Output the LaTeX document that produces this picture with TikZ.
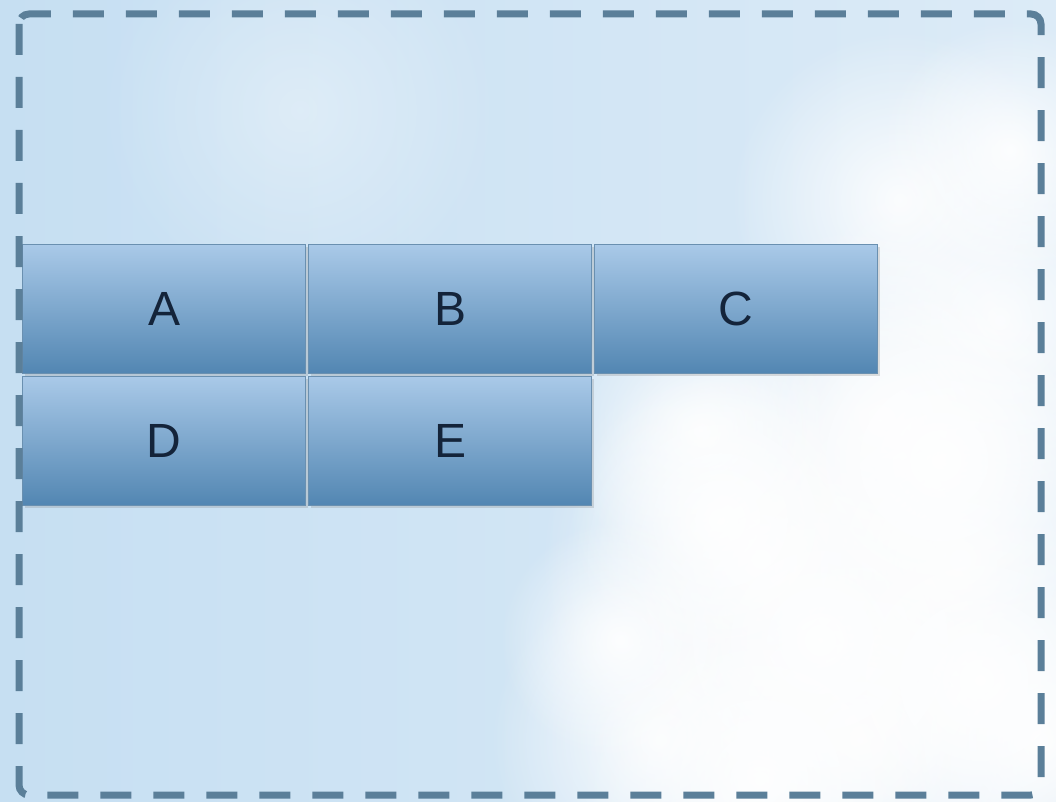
\documentclass[tikz,border=0pt]{standalone}
\usepackage{fontspec}
\setmainfont{Liberation Sans}
\usetikzlibrary{shadows,fadings}
\tikzfading[name=softblob, inner color=transparent!0, outer color=transparent!100]
\definecolor{skyA}{HTML}{C6DFF2}
\definecolor{skyB}{HTML}{DCEBF7}
\definecolor{frameC}{HTML}{5B7F99}
\definecolor{boxTop}{HTML}{A9C9E8}
\definecolor{boxBot}{HTML}{5286B2}
\definecolor{boxLine}{HTML}{6A90B0}
\definecolor{txtC}{HTML}{14243A}
\tikzset{
  cell/.style={draw=boxLine, line width=1.2pt, top color=boxTop, bottom color=boxBot,
    minimum width=283pt, minimum height=129pt, inner sep=0pt, anchor=north west,
    font=\fontsize{48}{48}\selectfont, text=txtC,
    drop shadow={shadow xshift=2pt, shadow yshift=-2pt, opacity=0.25}},
  puff/.style={fill=white, path fading=softblob, opacity=0.9},
  frame/.style={draw=frameC, line width=7pt, dash pattern=on 31pt off 22pt, rounded corners=10pt}
}
\begin{document}
\begin{tikzpicture}[x=1pt,y=-1pt]
\useasboundingbox (0,0) rectangle (1056,802);
\shade[left color=skyA, right color=skyB] (0,0) rectangle (1056,802);
% clouds
\foreach \cx/\cy/\r in {900/200/170, 1000/320/190, 880/420/200, 760/560/220, 960/560/220, 660/740/170, 1010/150/130, 860/740/220, 700/430/140, 1040/740/160, 620/640/120, 820/640/200, 940/460/180, 760/780/180, 980/680/180, 720/520/150}{
  \fill[puff] (\cx,\cy) circle (\r);
}
\fill[white, path fading=softblob, opacity=0.35] (300,110) circle (200);
\node[cell] (A) at (22,244) {A};
\node[cell] (B) at (308,244) {B};
\node[cell] (C) at (594,244) {C};
\node[cell] (D) at (22,376) {D};
\node[cell] (E) at (308,376) {E};
\draw[frame] (19,14) rectangle (1041,795);
\end{tikzpicture}
\end{document}
